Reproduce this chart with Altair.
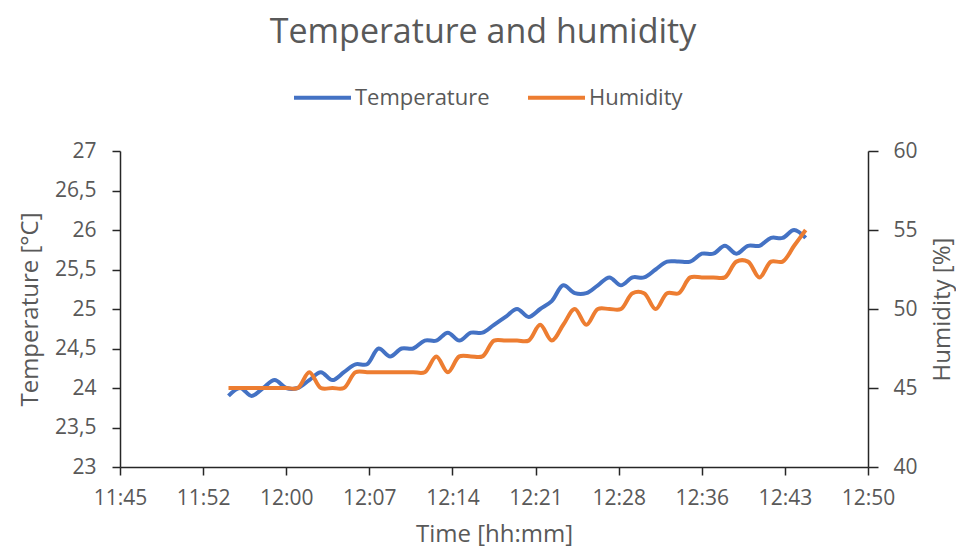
import altair as alt
import pandas as pd

times = ["11:55", "11:56", "11:57", "11:58", "11:59", "12:00", "12:01", "12:02", "12:03", "12:04",
         "12:05", "12:06", "12:07", "12:08", "12:09", "12:10", "12:11", "12:12", "12:13", "12:14",
         "12:15", "12:16", "12:17", "12:18", "12:19", "12:20", "12:21", "12:22", "12:23", "12:24",
         "12:25", "12:26", "12:27", "12:28", "12:29", "12:30", "12:31", "12:32", "12:33", "12:34",
         "12:35", "12:36", "12:37", "12:38", "12:39", "12:40", "12:41", "12:42", "12:43", "12:44",
         "12:45"]

temperature = [23.9, 24.0, 23.9, 24.0, 24.1, 24.0, 24.0, 24.1, 24.2, 24.1,
               24.2, 24.3, 24.3, 24.5, 24.4, 24.5, 24.5, 24.6, 24.6, 24.7,
               24.6, 24.7, 24.7, 24.8, 24.9, 25.0, 24.9, 25.0, 25.1, 25.3,
               25.2, 25.2, 25.3, 25.4, 25.3, 25.4, 25.4, 25.5, 25.6, 25.6,
               25.6, 25.7, 25.7, 25.8, 25.7, 25.8, 25.8, 25.9, 25.9, 26.0,
               25.9]

humidity = [45, 45, 45, 45, 45, 45, 45, 46, 45, 45,
            45, 46, 46, 46, 46, 46, 46, 46, 47, 46,
            47, 47, 47, 48, 48, 48, 48, 49, 48, 49,
            50, 49, 50, 50, 50, 51, 51, 50, 51, 51,
            52, 52, 52, 52, 53, 53, 52, 53, 53, 54,
            55]

series_names = ["Temperature", "Humidity"]
series_colors = ["#4472C4", "#ED7D31"]

temp_ticks = [23, 23.5, 24, 24.5, 25, 25.5, 26, 26.5, 27]
hum_ticks = [40, 45, 50, 55, 60]
# x axis in minutes after midnight (Excel axis 0.49 .. 0.535 day, major unit 0.005 day)
x_ticks = [705.6, 712.8, 720.0, 727.2, 734.4, 741.6, 748.8, 756.0, 763.2, 770.4]


def to_min(s):
    h, m = s.split(":")
    return int(h) * 60 + int(m)


rows = []
for t, v in zip(times, temperature):
    rows.append({"t": to_min(t), "series": "Temperature", "value": v})
for t, v in zip(times, humidity):
    rows.append({"t": to_min(t), "series": "Humidity", "value": v})
df = pd.DataFrame(rows)

TXT = "#595959"
AX = "#262626"
FONT = "Open Sans"

x_enc = alt.X(
    "t:Q",
    scale=alt.Scale(domain=[x_ticks[0], x_ticks[-1]], nice=False, zero=False),
    axis=alt.Axis(
        values=x_ticks,
        labelExpr="floor(floor(datum.value)/60) + ':' + pad(toString(floor(datum.value)%60), 2, '0', 'left')",
        title="Time [hh:mm]",
        grid=False,
        tickSize=8,
        labelPadding=12,
        titlePadding=14,
        labelFlush=False,
        labelOverlap=False,
    ),
)

legend = alt.Legend(
    title=None,
    orient="none",
    legendX=172,
    legendY=-84,
    direction="horizontal",
    symbolType="stroke",
    symbolSize=3249,
    symbolStrokeWidth=4,
    labelFontSize=22,
    labelColor=TXT,
    labelFont=FONT,
    labelOffset=2,
    columnPadding=30,
)

color_enc = alt.Color(
    "series:N",
    scale=alt.Scale(domain=series_names, range=series_colors),
    legend=legend,
    sort=series_names,
)

base = alt.Chart(df)

temp_layer = base.transform_filter(alt.datum.series == "Temperature").mark_line(
    interpolate="catmull-rom", strokeWidth=4
).encode(
    x=x_enc,
    y=alt.Y(
        "value:Q",
        scale=alt.Scale(domain=[23, 27], nice=False, zero=False),
        axis=alt.Axis(
            orient="left",
            values=temp_ticks,
            labelExpr="replace(toString(datum.value), '.', ',')",
            title="Temperature [°C]",
            grid=False,
            tickSize=8,
            labelPadding=16,
            titlePadding=12,
        ),
    ),
    color=color_enc,
)

hum_layer = base.transform_filter(alt.datum.series == "Humidity").mark_line(
    interpolate="catmull-rom", strokeWidth=4
).encode(
    x=x_enc,
    y=alt.Y(
        "value:Q",
        scale=alt.Scale(domain=[40, 60], nice=False, zero=False),
        axis=alt.Axis(
            orient="right",
            values=hum_ticks,
            title="Humidity [%]",
            titleAngle=270,
            titleAlign="center",
            titleBaseline="middle",
            titleX=74,
            titleY=158,
            grid=False,
            tickSize=10,
            labelPadding=15,
        ),
    ),
    color=color_enc,
)

chart = (
    alt.layer(temp_layer, hum_layer)
    .resolve_scale(y="independent")
    .properties(
        width=748,
        height=316,
        autosize=alt.AutoSizeParams(type="none"),
        padding={"left": 112, "top": 143, "right": 88, "bottom": 81},
        title=alt.TitleParams(
            "Temperature and humidity",
            fontSize=34,
            font=FONT,
            fontWeight="normal",
            color=TXT,
            anchor="middle",
            dx=-11,
            offset=17,
        ),
    )
    .configure_view(stroke=None)
    .configure_axis(
        labelFont=FONT,
        titleFont=FONT,
        labelFontSize=21,
        titleFontSize=24,
        labelColor=TXT,
        titleColor=TXT,
        titleFontWeight="normal",
        domainColor=AX,
        tickColor=AX,
        domainWidth=1.5,
        tickWidth=1.5,
    )
)

chart.save("out.html", embed_options={"renderer": "svg", "actions": False})
